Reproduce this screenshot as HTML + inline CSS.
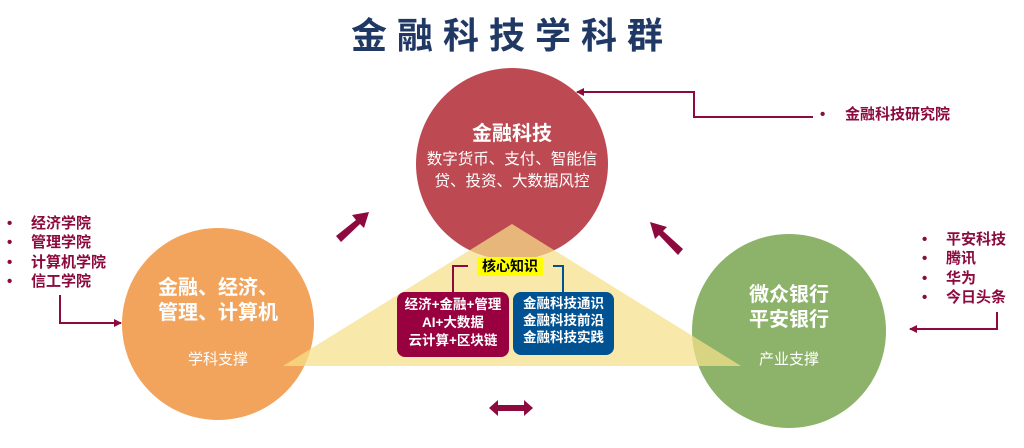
<!DOCTYPE html>
<html><head><meta charset="utf-8"><style>
body{margin:0;width:1024px;height:448px;overflow:hidden;background:#fff;font-family:"Liberation Sans","Noto Sans CJK SC",sans-serif;}
.a{position:absolute;white-space:nowrap}
.l{position:absolute;color:#8c0a3e;font-size:15px;font-weight:bold;line-height:19.3px}
</style></head><body>
<svg width="1024" height="448" style="position:absolute;left:0;top:0">
<defs><marker id="m" markerWidth="8" markerHeight="8" refX="7" refY="4" orient="auto" markerUnits="userSpaceOnUse"><path d="M0,0 L8,4 L0,8 Z" fill="#8c0a3e"/></marker></defs>
<circle cx="512" cy="164" r="96" fill="#bd4a52"/>
<circle cx="218" cy="324" r="96" fill="#f2a45c"/>
<circle cx="789" cy="331" r="97" fill="#8db36a"/>
<polygon points="512,224 283,366 741,366" fill="#f5e08a" fill-opacity="0.72"/>
<g fill="none" stroke="#8c0a3e" stroke-width="2">
<polyline points="813,117 694,117 694,92 577,92" marker-end="url(#m)"/>
<polyline points="60,295 60,323 121,323" marker-end="url(#m)"/>
<polyline points="997,312 997,329 910,329" marker-end="url(#m)"/>
<polyline points="453,292 453,266 468,266"/>
</g>
<polyline points="553,266 563,266 563,292" fill="none" stroke="#005293" stroke-width="2"/>
<g fill="#8c0a3e">
<polygon points="336,236 356,220 352,215 369,212 364,228 360,224 341,242"/>
<polygon points="683,249 663,231 667,227 650,222 655,239 659,235 678,255"/>
<polygon points="489,408 498,400 498,405 524,405 524,400 533,408 524,416 524,411 498,411 498,416"/>
</g>
<rect x="397" y="292" width="112" height="65" rx="8" fill="#99003f"/>
<rect x="513" y="292" width="101" height="63" rx="8" fill="#005293"/>
<rect x="477" y="257" width="66" height="19" fill="#ffff00"/>
</svg>
<div class="a" style="left:6px;width:1012px;top:7px;text-align:center;font-size:36px;font-weight:bold;color:#1f3864;letter-spacing:10px">金融科技学科群</div>
<div class="a" style="left:416px;width:192px;top:117px;text-align:center;color:#fff;font-size:20px;font-weight:bold">金融科技</div>
<div class="a" style="left:416px;width:192px;top:149px;text-align:center;color:#fff;font-size:15.5px;line-height:22px">数字货币、支付、智能信<br>贷、投资、大数据风控</div>
<div class="a" style="left:122px;width:192px;top:276px;text-align:center;color:#fff;font-size:20px;font-weight:bold;line-height:25px">金融、经济、<br>管理、计算机</div>
<div class="a" style="left:122px;width:192px;top:348px;text-align:center;color:#fff;font-size:15px">学科支撑</div>
<div class="a" style="left:692px;width:194px;top:283px;text-align:center;color:#fff;font-size:20px;font-weight:bold;line-height:25px">微众银行<br>平安银行</div>
<div class="a" style="left:692px;width:194px;top:348px;text-align:center;color:#fff;font-size:15px">产业支撑</div>
<div class="a" style="left:477px;width:66px;top:257px;text-align:center;font-size:14px;font-weight:bold;line-height:19px;color:#000">核心知识</div>
<div class="a" style="left:397px;width:112px;top:296px;text-align:center;color:#fff;font-size:13.5px;font-weight:bold;line-height:18px">经济+金融+管理<br>AI+大数据<br>云计算+区块链</div>
<div class="a" style="left:513px;width:101px;top:295px;text-align:center;color:#fff;font-size:13.5px;font-weight:bold;line-height:17px">金融科技通识<br>金融科技前沿<br>金融科技实践</div>
<div class="l" style="left:7px;top:214px">•<br>•<br>•<br>•</div>
<div class="l" style="left:31px;top:214px">经济学院<br>管理学院<br>计算机学院<br>信工学院</div>
<div class="l" style="left:922px;top:230px">•<br>•<br>•<br>•</div>
<div class="l" style="left:946px;top:230px">平安科技<br>腾讯<br>华为<br>今日头条</div>
<div class="l" style="left:820px;top:105px">•</div>
<div class="l" style="left:845px;top:105px">金融科技研究院</div>
</body></html>
